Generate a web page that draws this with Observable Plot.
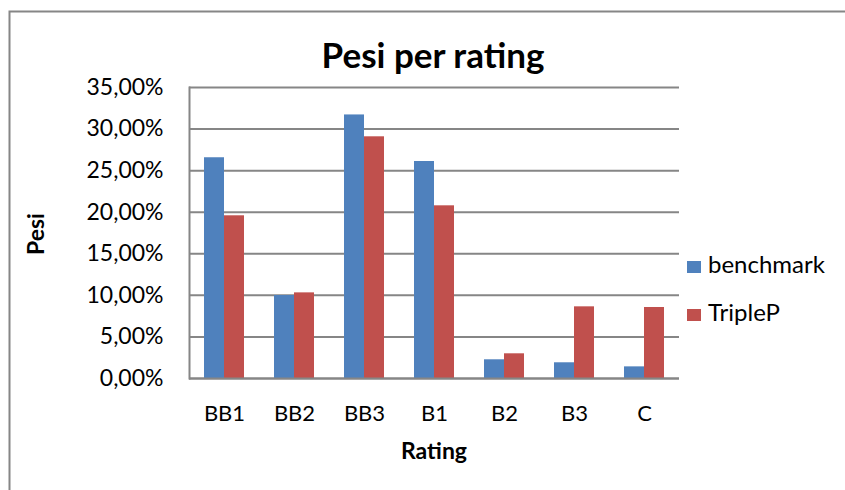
<!DOCTYPE html>
<html>
<head>
<meta charset="utf-8">
<script src="https://cdn.jsdelivr.net/npm/d3@7"></script>
<script src="https://cdn.jsdelivr.net/npm/@observablehq/plot@0.6"></script>
<style>
  html, body { margin: 0; padding: 0; background: #fff; }
  #chart { width: 845px; height: 490px; overflow: hidden; }
</style>
</head>
<body>
<div id="chart"></div>
<script>
const categories = ["BB1", "BB2", "BB3", "B1", "B2", "B3", "C"];
const benchmark = [0.2655, 0.0998, 0.3170, 0.2610, 0.0225, 0.0189, 0.0140];
const tripleP  = [0.1957, 0.1030, 0.2907, 0.2077, 0.0297, 0.0862, 0.0854];
const seriesNames = ["benchmark", "TripleP"];
const seriesColors = ["#4F81BD", "#C0504D"];
const yTicks = [0, 0.05, 0.10, 0.15, 0.20, 0.25, 0.30, 0.35];
const titleText = "Pesi per rating";
const xLabel = "Rating";
const yLabel = "Pesi";

const rowsB = categories.map((c, i) => ({cat: c, val: benchmark[i]}));
const rowsT = categories.map((c, i) => ({cat: c, val: tripleP[i]}));

const itFormat = d3.formatLocale({decimal: ",", thousands: ".", grouping: [3], currency: ["", "€"]}).format(".2%");

const FONT = "Lato, 'Open Sans', sans-serif";
const gridColor = "#868686";

const svg = Plot.plot({
  width: 845,
  height: 490,
  marginLeft: 189,
  marginRight: 166,
  marginTop: 87,
  marginBottom: 112,
  style: {fontFamily: FONT, fontSize: "22px", color: "#000", background: "#fff"},
  x: {domain: categories, paddingInner: 5/7, paddingOuter: 5/14, align: 0.5},
  y: {domain: [0, 0.35]},
  marks: [
    Plot.ruleY(yTicks, {stroke: gridColor, strokeWidth: 2}),
    Plot.barY(rowsB, {x: "cat", y: "val", fill: seriesColors[0], dx: -10, inset: 0}),
    Plot.barY(rowsT, {x: "cat", y: "val", fill: seriesColors[1], dx: 10, inset: 0}),
    Plot.frame({anchor: "left", stroke: gridColor, strokeWidth: 2}),
    Plot.ruleY([0], {stroke: gridColor, strokeWidth: 2}),
    Plot.axisY({ticks: yTicks, tickFormat: itFormat, tickSize: 0, tickPadding: 26, label: null, fontSize: 23}),
    Plot.axisX({tickSize: 0, tickPadding: 27, label: null, fontSize: 22})
  ]
});

const s = d3.select(svg);
// outer chart border
s.insert("rect", ":first-child")
  .attr("x", 9.5).attr("y", 11.5).attr("width", 900).attr("height", 600)
  .attr("fill", "none").attr("stroke", gridColor).attr("stroke-width", 2);

s.append("text").text(titleText)
  .attr("x", 433).attr("y", 68).attr("text-anchor", "middle")
  .attr("font-family", FONT).attr("font-weight", "bold").attr("font-size", 35);

s.append("text").text(xLabel)
  .attr("x", 434).attr("y", 459).attr("text-anchor", "middle")
  .attr("font-family", FONT).attr("font-weight", "bold").attr("font-size", 23);

s.append("text").text(yLabel)
  .attr("transform", "translate(44,234) rotate(-90)").attr("text-anchor", "middle")
  .attr("font-family", FONT).attr("font-weight", "bold").attr("font-size", 23);

const legendBase = [273, 321];
seriesNames.forEach((name, i) => {
  s.append("rect").attr("x", 687).attr("y", legendBase[i] - 12).attr("width", 14).attr("height", 12)
    .attr("fill", seriesColors[i]);
  s.append("text").text(name).attr("x", 708).attr("y", legendBase[i])
    .attr("text-anchor", "start")
    .attr("font-family", FONT).attr("font-size", 24);
});

document.getElementById("chart").appendChild(svg);
</script>
</body>
</html>
